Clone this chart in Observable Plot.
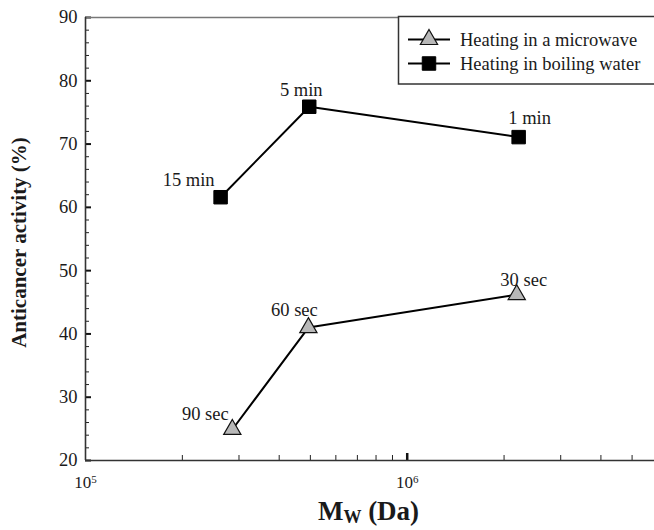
<!DOCTYPE html>
<html>
<head>
<meta charset="utf-8">
<script src="https://cdn.jsdelivr.net/npm/d3@7"></script>
<script src="https://cdn.jsdelivr.net/npm/@observablehq/plot@0.6"></script>
<style>
  html, body { margin: 0; padding: 0; background: #fff; }
  #chart { width: 654px; height: 530px; overflow: hidden; }
</style>
</head>
<body>
<div id="chart"></div>
<script>
// ---- data ----
const methods = ["Heating in a microwave", "Heating in boiling water"];
const microwaveMw = [2.86e5, 4.93e5, 2.19e6];
const microwaveActivity = [24.9, 41.0, 46.2];
const microwaveLabels = ["90 sec", "60 sec", "30 sec"];
const boilingMw = [2.63e5, 4.96e5, 2.22e6];
const boilingActivity = [61.6, 75.9, 71.1];
const boilingLabels = ["15 min", "5 min", "1 min"];
const yTicks = [20, 30, 40, 50, 60, 70, 80, 90];
const yMinorTicks = [22,24,26,28,32,34,36,38,42,44,46,48,52,54,56,58,62,64,66,68,72,74,76,78,82,84,86,88];
const xTicks = [1e5, 1e6];
const xTickExponents = ["5", "6"];
const xMinorTicks = [2e5,3e5,4e5,5e5,6e5,7e5,8e5,9e5,2e6,3e6,4e6,5e6];
const yTitle = "Anticancer activity (%)";
const xTitleMain = "M", xTitleSub = "W", xTitleRest = " (Da)";

// ---- tables built from the arrays ----
const microwave = microwaveMw.map((x, i) => ({x, y: microwaveActivity[i], label: microwaveLabels[i]}));
const boiling = boilingMw.map((x, i) => ({x, y: boilingActivity[i], label: boilingLabels[i]}));

// ---- style (label offsets in px) ----
const FONT = "'Liberation Serif', 'Times New Roman', serif";
const W = 654, H = 530, ML = 85, MR = 0, MT = 17, MB = 70;
const plotW = W - ML - MR, plotH = H - MT - MB;
const microwaveOffsets = [[-27, -15], [-14, -18], [7, -15]];
const boilingOffsets = [[-32, -17], [-8, -17], [11, -19]];
const TRI_FILL = "#b8b8b8";

const labelMarks = (rows, offsets) => rows.map((r, i) =>
  Plot.text([r], {x: "x", y: "y", text: "label", dx: offsets[i][0], dy: offsets[i][1],
    textAnchor: "middle", lineAnchor: "middle", fontSize: 18.5, fill: "#1a1a1a"}));

const plot = Plot.plot({
  width: W, height: H,
  marginLeft: ML, marginRight: MR, marginTop: MT, marginBottom: MB,
  style: {fontFamily: FONT, fontSize: "18px", background: "#fff", color: "#1a1a1a", overflow: "visible"},
  x: {type: "log", domain: [1e5, 5.87e6], axis: null},
  y: {domain: [20, 90], axis: null},
  marks: [
    // minor and major ticks (inward)
    Plot.tickY(yMinorTicks, {y: d => d, insetRight: plotW - 4, stroke: "#222", strokeWidth: 1}),
    Plot.tickY(yTicks, {y: d => d, insetRight: plotW - 6, stroke: "#111", strokeWidth: 2}),
    Plot.tickX(xMinorTicks, {x: d => d, insetTop: plotH - 5, stroke: "#222", strokeWidth: 1}),
    Plot.tickX([1e6], {x: d => d, insetTop: plotH - 7, stroke: "#111", strokeWidth: 2.5}),
    // frame lines
    Plot.ruleY([90], {stroke: "#777", strokeWidth: 1.5}),
    Plot.ruleY([20], {stroke: "#333", strokeWidth: 1.6}),
    Plot.ruleX([1e5], {stroke: "#333", strokeWidth: 1.6}),
    // tick labels
    Plot.axisY({ticks: yTicks, tickSize: 0, tickPadding: 8, fontSize: 18.5, label: null, fill: "#1a1a1a"}),
    Plot.axisX({ticks: xTicks, tickSize: 0, tickPadding: 15, fontSize: 17, label: null, fill: "#1a1a1a",
      tickFormat: d => "10"}),
    // series
    Plot.line(boiling, {x: "x", y: "y", stroke: "#000", strokeWidth: 2}),
    Plot.line(microwave, {x: "x", y: "y", stroke: "#000", strokeWidth: 2}),
    Plot.dot(boiling, {x: "x", y: "y", symbol: "square", r: 7.6, fill: "#000", stroke: "#000", strokeWidth: 1}),
    Plot.dot(microwave, {x: "x", y: "y", symbol: "triangle", r: 6.4, fill: TRI_FILL, stroke: "#111", strokeWidth: 1.2}),
    ...labelMarks(boiling, boilingOffsets),
    ...labelMarks(microwave, microwaveOffsets)
  ]
});

document.getElementById("chart").appendChild(plot);

const svg = d3.select(plot);
// superscripts on x tick labels
svg.selectAll('g[aria-label="x-axis tick label"] text').each(function(d, i) {
  const t = d3.select(this);
  t.text("10");
  t.append("tspan").attr("dy", "-0.45em").attr("font-size", 11).text(xTickExponents[i]);
});

// y title
svg.append("text")
  .attr("transform", `translate(19,${MT + plotH / 2 + 4}) rotate(-90)`)
  .attr("text-anchor", "middle").attr("dy", "0.35em")
  .attr("font-family", FONT).attr("font-weight", "bold").attr("font-size", 21)
  .attr("fill", "#1a1a1a").text(yTitle);

// x title
const xt = svg.append("text")
  .attr("x", ML + plotW / 2 - 1).attr("y", 520)
  .attr("text-anchor", "middle")
  .attr("font-family", FONT).attr("font-weight", "bold").attr("font-size", 27)
  .attr("fill", "#1a1a1a");
xt.append("tspan").text(xTitleMain);
xt.append("tspan").attr("font-size", 18).attr("dy", 3).text(xTitleSub);
xt.append("tspan").attr("dy", -3).text(xTitleRest);

// legend
const lg = svg.append("g").attr("text-anchor", "start");
lg.append("rect").attr("x", 398.5).attr("y", 16.5).attr("width", 270).attr("height", 67.5)
  .attr("fill", "#fff").attr("stroke", "#333").attr("stroke-width", 1.5);
const rows = [39.5, 63.5];
rows.forEach((ry, i) => {
  lg.append("line").attr("x1", 408).attr("x2", 450).attr("y1", ry).attr("y2", ry)
    .attr("stroke", "#000").attr("stroke-width", 2);
  if (i === 0) {
    lg.append("path").attr("transform", `translate(429,${ry})`)
      .attr("d", d3.symbol(d3.symbolTriangle, Math.PI * 6.4 * 6.4)())
      .attr("fill", TRI_FILL).attr("stroke", "#111").attr("stroke-width", 1.2);
  } else {
    lg.append("path").attr("transform", `translate(429,${ry})`)
      .attr("d", d3.symbol(d3.symbolSquare, Math.PI * 7.6 * 7.6)())
      .attr("fill", "#000").attr("stroke", "#000");
  }
  lg.append("text").attr("x", 460).attr("y", ry).attr("dy", "0.33em")
    .attr("text-anchor", "start")
    .attr("font-family", FONT).attr("font-size", 18.5).attr("fill", "#1a1a1a").text(methods[i]);
});
</script>
</body>
</html>
